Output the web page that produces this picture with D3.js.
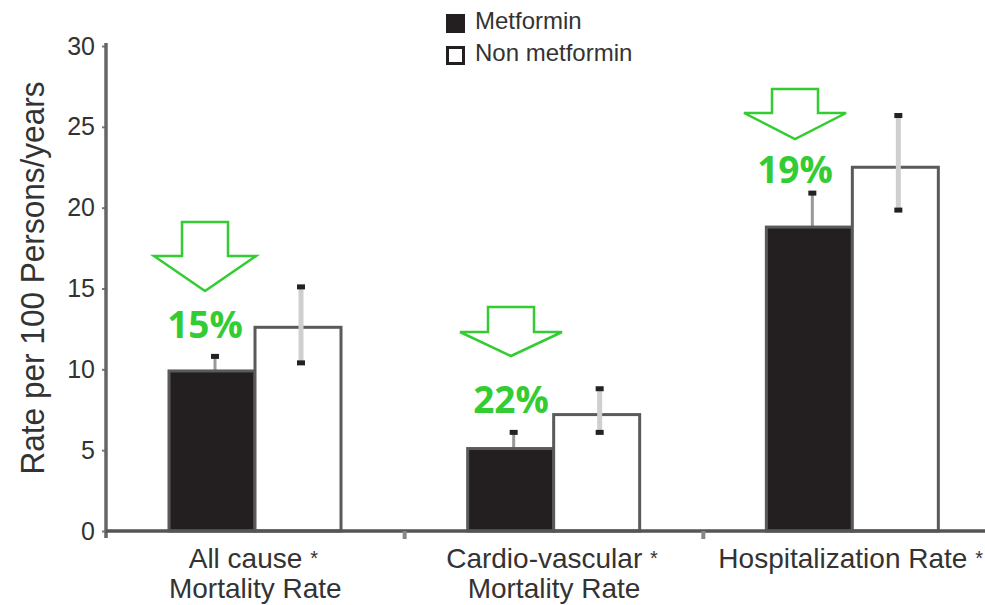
<!DOCTYPE html>
<html>
<head>
<meta charset="utf-8">
<script src="https://cdnjs.cloudflare.com/ajax/libs/d3/7.8.5/d3.min.js"></script>
<style>
    body { margin: 0; background: #fff; }
    svg text { font-family: "Liberation Sans", Arial, sans-serif; }
</style>
</head>
<body>
<div id="chart"></div>
<script>
// categories (each label is split on two lines)
let categories = ['allcause', 'cardio', 'hosp'];
let categoryLabels = [
    ['All cause *', 'Mortality Rate'],
    ['Cardio-vascular *', 'Mortality Rate'],
    ['Hospitalization Rate *']
];
let seriesNames = ['Metformin', 'Non metformin'];

// rates per 100 persons/years
let metformin = [9.9, 5.1, 18.8];
let metforminLow = [9.0, 4.1, 16.7];
let metforminHigh = [10.8, 6.1, 20.9];
let nonMetformin = [12.6, 7.2, 22.5];
let nonMetforminLow = [10.4, 6.1, 19.85];
let nonMetforminHigh = [15.1, 8.8, 25.7];

// reduction annotations
let reductions = ['15%', '22%', '19%'];

let yTicks = [0, 5, 10, 15, 20, 25, 30];

//布局
let W = 985, H = 605;
let x0Left = 106, x0Right = 1002, yBottom = 531, yTop = 46;
let green = '#33cc33';
// arrows / labels placement (pixels)
let annoLayout = [
    {cx: 205, top: 222, neck: 256, tip: 291, base: 338},
    {cx: 511, top: 307, neck: 332, tip: 356, base: 413},
    {cx: 795, top: 89, neck: 113, tip: 139, base: 183}
];

let svg = d3.select('#chart').append('svg')
    .attr('width', W)
    .attr('height', H);

let xScale = d3.scaleBand()
    .domain(categories)
    .range([x0Left, x0Right]);
// 组内比例尺
let x1 = d3.scaleBand()
    .domain(seriesNames)
    .range([63, 235]);
let yScale = d3.scaleLinear()
    .domain([0, 30])
    .range([yBottom, yTop]);

let data = categories.map(function (c, i) {
    return [
        {cat: c, s: seriesNames[0], v: metformin[i], lo: metforminLow[i], hi: metforminHigh[i]},
        {cat: c, s: seriesNames[1], v: nonMetformin[i], lo: nonMetforminLow[i], hi: nonMetforminHigh[i]}
    ];
});
let met = data.map(function (d) { return d[0]; });
let non = data.map(function (d) { return d[1]; });

let barX = function (d) { return xScale(d.cat) + x1(d.s); };
let barC = function (d) { return barX(d) + x1.bandwidth() / 2 + 3; };

//误差线
let drawErr = function (sel, lineColor, lineW) {
    let g = svg.append('g').selectAll('g').data(sel).enter().append('g');
    g.append('line')
        .attr('x1', barC).attr('x2', barC)
        .attr('y1', function (d) { return yScale(d.lo); })
        .attr('y2', function (d) { return yScale(d.hi); })
        .attr('stroke', lineColor)
        .attr('stroke-width', lineW);
    [function (d) { return d.lo; }, function (d) { return d.hi; }].forEach(function (f) {
        g.append('rect')
            .attr('x', function (d) { return barC(d) - 4; })
            .attr('y', function (d) { return yScale(f(d)) - 2.5; })
            .attr('width', 8)
            .attr('height', 5)
            .attr('fill', '#222');
    });
};

// metformin error bars behind the dark bars
drawErr(met, '#999', 3);

//条形
svg.append('g').selectAll('rect')
    .data(met.concat(non))
    .enter()
    .append('rect')
    .attr('x', barX)
    .attr('y', function (d) { return yScale(d.v); })
    .attr('width', x1.bandwidth())
    .attr('height', function (d) { return yBottom - yScale(d.v); })
    .attr('fill', function (d) { return d.s === seriesNames[0] ? '#231f20' : '#fff'; })
    .attr('stroke', '#5a5a5a')
    .attr('stroke-width', 3);

drawErr(non, '#cfcfcf', 5);

//y轴
let yAxis = d3.axisLeft(yScale)
    .tickValues(yTicks)
    .tickSize(4)
    .tickPadding(7);
let yG = svg.append('g')
    .attr('transform', 'translate(' + x0Left + ',0)')
    .call(yAxis);
yG.select('.domain').remove();
yG.selectAll('.tick line').attr('stroke', '#777').attr('stroke-width', 2);
yG.selectAll('.tick text')
    .attr('font-size', 25)
    .attr('fill', '#333')
    .style('font-family', '"Liberation Sans", Arial, sans-serif');
svg.append('line')
    .attr('x1', x0Left).attr('x2', x0Left)
    .attr('y1', 43).attr('y2', 538)
    .attr('stroke', '#666')
    .attr('stroke-width', 3.5);

//x轴
svg.append('line')
    .attr('x1', x0Left).attr('x2', W)
    .attr('y1', yBottom).attr('y2', yBottom)
    .attr('stroke', '#555')
    .attr('stroke-width', 3.5);
svg.append('g').selectAll('line')
    .data(categories.slice(1))
    .enter()
    .append('line')
    .attr('x1', function (d) { return xScale(d); })
    .attr('x2', function (d) { return xScale(d); })
    .attr('y1', yBottom)
    .attr('y2', yBottom + 8)
    .attr('stroke', '#888')
    .attr('stroke-width', 4);

// category labels, the trailing asterisk is drawn smaller
let catG = svg.append('g').selectAll('text')
    .data(categories)
    .enter()
    .append('text')
    .attr('text-anchor', 'middle')
    .attr('font-size', 28)
    .attr('fill', '#333');
catG.each(function (d, i) {
    let t = d3.select(this);
    categoryLabels[i].forEach(function (line, j) {
        let star = / \*$/.test(line);
        let main = star ? line.replace(/ \*$/, ' ') : line;
        t.append('tspan')
            .attr('x', xScale(d) + xScale.bandwidth() / 2 - (star ? 2 : 0))
            .attr('y', 568 + j * 30)
            .text(main);
        if (star) {
            t.append('tspan')
                .attr('font-size', 20)
                .attr('dy', -3)
                .text('*');
        }
    });
});

// y title
svg.append('text')
    .attr('transform', 'translate(44,278) rotate(-90)')
    .attr('text-anchor', 'middle')
    .attr('font-size', 34)
    .attr('textLength', 393)
    .attr('lengthAdjust', 'spacingAndGlyphs')
    .attr('fill', '#333')
    .text('Rate per 100 Persons/years');

//图例
let legend = svg.append('g').selectAll('g')
    .data(seriesNames)
    .enter()
    .append('g')
    .attr('transform', function (d, i) { return 'translate(446,' + (14 + i * 32) + ')'; });
legend.append('rect')
    .attr('x', function (d, i) { return i ? 1.5 : 0; })
    .attr('y', function (d, i) { return i ? 1.5 : 0; })
    .attr('width', function (d, i) { return i ? 16 : 19; })
    .attr('height', function (d, i) { return i ? 16 : 19; })
    .attr('fill', function (d, i) { return i ? '#fff' : '#231f20'; })
    .attr('stroke', function (d, i) { return i ? '#231f20' : 'none'; })
    .attr('stroke-width', 3);
legend.append('text')
    .attr('x', 29)
    .attr('y', 15)
    .attr('font-size', 24)
    .attr('fill', '#333')
    .text(function (d) { return d; });

//箭头和百分比
let anno = svg.append('g').selectAll('g')
    .data(reductions)
    .enter()
    .append('g');
anno.append('path')
    .attr('d', function (d, i) {
        let a = annoLayout[i];
        return 'M' + (a.cx - 23) + ',' + a.top +
            'H' + (a.cx + 23) + 'V' + a.neck +
            'H' + (a.cx + 51) + 'L' + a.cx + ',' + a.tip +
            'L' + (a.cx - 51) + ',' + a.neck +
            'H' + (a.cx - 23) + 'Z';
    })
    .attr('fill', 'none')
    .attr('stroke', green)
    .attr('stroke-width', 2.5);
anno.append('text')
    .attr('x', function (d, i) { return annoLayout[i].cx; })
    .attr('y', function (d, i) { return annoLayout[i].base; })
    .attr('text-anchor', 'middle')
    .attr('font-size', 37)
    .attr('font-weight', 'bold')
    .attr('fill', green)
    .style('font-family', '"Open Sans", sans-serif')
    .text(function (d) { return d; });
</script>
</body>
</html>
